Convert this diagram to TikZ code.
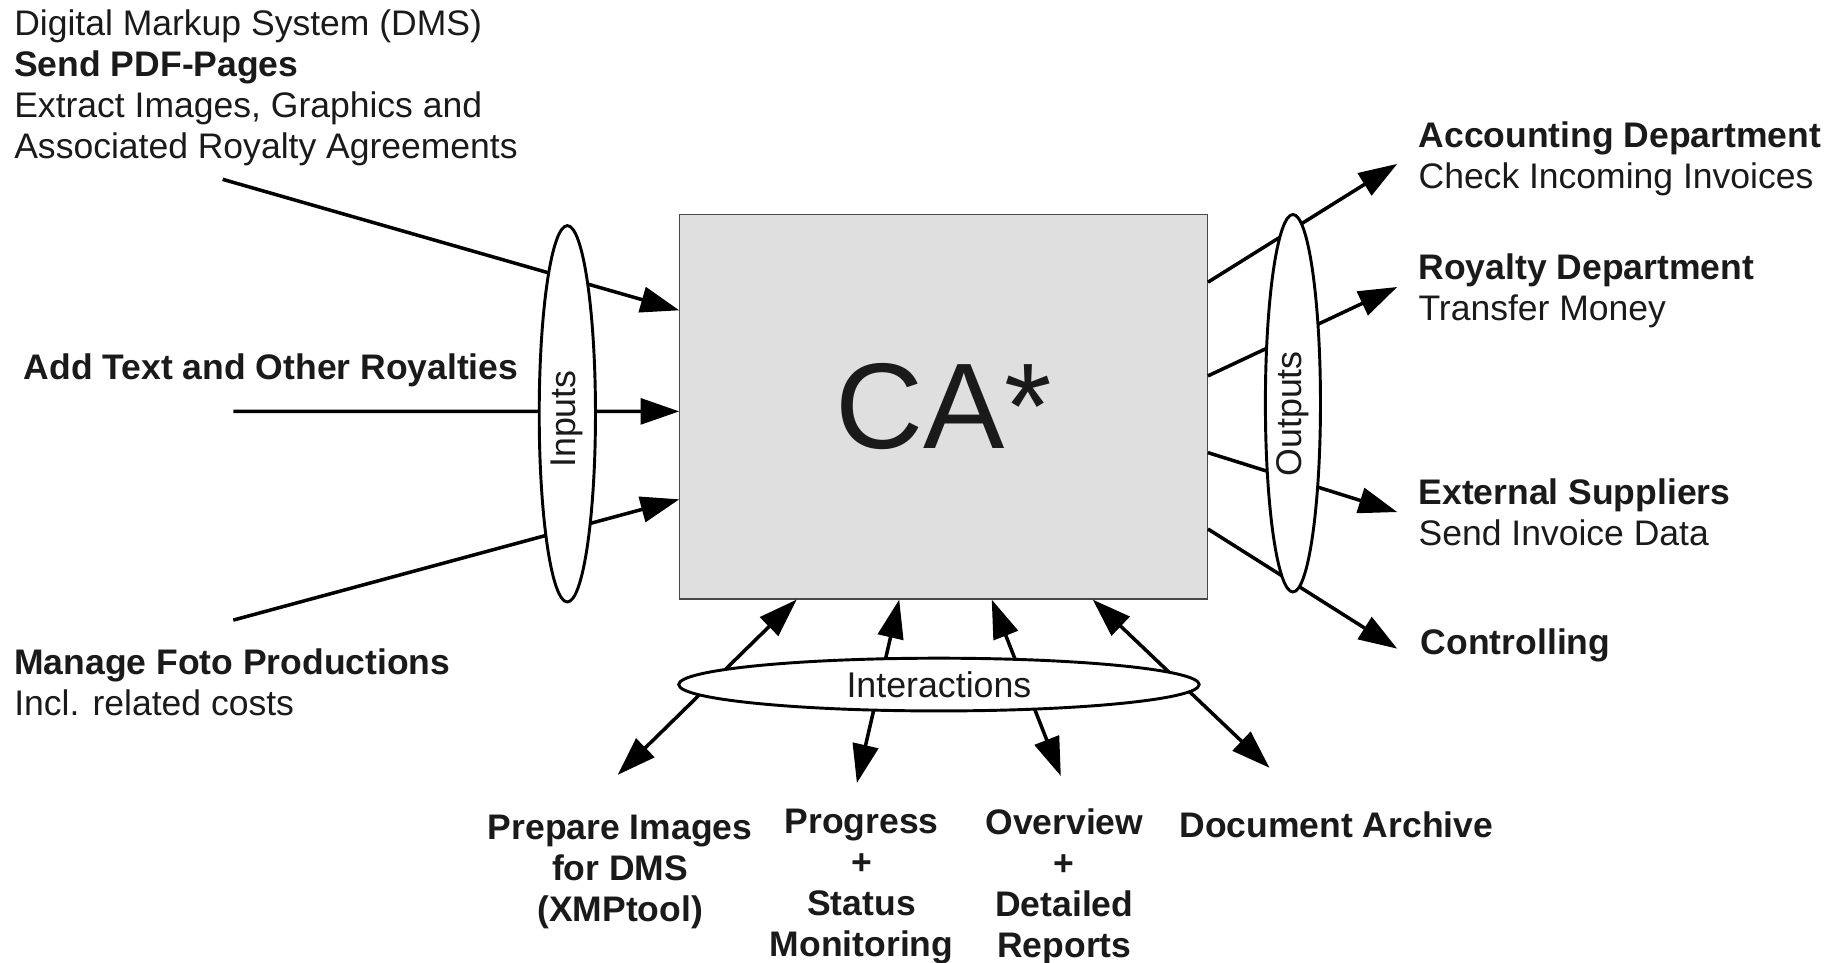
\documentclass[tikz,border=0pt]{standalone}
\usepackage{fontspec}
\setmainfont{Liberation Sans}
\usetikzlibrary{arrows.meta,shapes.geometric,calc}
\definecolor{ink}{HTML}{1A1A1A}
\definecolor{boxgray}{HTML}{DFDFDF}
\tikzset{
  txt/.style={inner sep=0pt, text=ink, align=left, font=\fontsize{30.3}{35}\selectfont},
  ctxt/.style={inner sep=0pt, text=ink, align=center, font=\fontsize{30.3}{35}\selectfont\bfseries},
  flow/.style={line width=3pt, -{Triangle[length=33pt,width=22pt]}},
  bothflow/.style={line width=3pt, {Triangle[length=33pt,width=22pt]}-{Triangle[length=33pt,width=22pt]}},
  group/.style={ellipse, draw, line width=2.5pt, fill=white, inner sep=0pt, text=ink, font=\fontsize{30.5}{35}\selectfont},
}
\begin{document}
\begin{tikzpicture}[x=1pt,y=-1pt]
\useasboundingbox (0,0) rectangle (1568,821);
% central box
\node[draw=ink!80, fill=boxgray, line width=1pt, minimum width=450pt, minimum height=328pt,
  inner sep=0pt, text=ink, font=\fontsize{104}{110}\selectfont] (ca) at (805,347) {CA*};

% left side labels
\node[txt, anchor=north west] (dms) at (12,8) {Digital Markup System (DMS)\\\textbf{Send PDF-Pages}\\Extract Images, Graphics and\\Associated Royalty Agreements};
\node[txt, anchor=north west, font=\fontsize{30.3}{35}\selectfont\bfseries] (addtxt) at (20,302) {Add Text and Other Royalties};
\node[txt, anchor=north west] (foto) at (12,553) {\textbf{Manage Foto Productions}\\Incl. related costs};

% right side labels
\node[txt, anchor=north west] (acc) at (1210,104) {\textbf{Accounting Department}\\Check Incoming Invoices};
\node[txt, anchor=north west] (roy) at (1210,216) {\textbf{Royalty Department}\\Transfer Money};
\node[txt, anchor=north west] (ext) at (1210,408) {\textbf{External Suppliers}\\Send Invoice Data};
\node[txt, anchor=north west] (ctrl) at (1212,536) {\textbf{Controlling}};

% bottom labels
\node[ctxt, anchor=north] (prep) at (529,695) {Prepare Images\\for DMS\\(XMPtool)};
\node[ctxt, anchor=north] (prog) at (735,690) {Progress\\+\\Status\\Monitoring};
\node[ctxt, anchor=north] (over) at (908,690) {Overview\\+\\Detailed\\Reports};
\node[ctxt, anchor=north] (arch) at (1140,692) {Document Archive};

% free ends
\coordinate (in1) at (190,153);
\coordinate (in2) at (199,351);
\coordinate (in3) at (199,529);
\coordinate (tip1) at (527,661);
\coordinate (tip2) at (731,668);
\coordinate (tip3) at (905,662);
\coordinate (tip4) at (1083,655);

% inputs
\draw[flow] (in1) -- ($(ca.north west)!0.25!(ca.south west)$);
\draw[flow] (in2) -- ($(ca.north west)!0.512!(ca.south west)$);
\draw[flow] (in3) -- ($(ca.north west)!0.74!(ca.south west)$);

% outputs
\draw[flow] ($(ca.north east)!0.177!(ca.south east)$) -- ([xshift=-18pt,yshift=-4pt]acc.west);
\draw[flow] ($(ca.north east)!0.42!(ca.south east)$) -- ([xshift=-18pt,yshift=3pt]roy.west);
\draw[flow] ($(ca.north east)!0.619!(ca.south east)$) -- ([xshift=-18pt]ext.west);
\draw[flow] ($(ca.north east)!0.817!(ca.south east)$) -- ([xshift=-20pt,yshift=-3pt]ctrl.west);

% interactions
\draw[bothflow] (tip1) -- ($(ca.south west)!0.222!(ca.south east)$);
\draw[bothflow] (tip2) -- ($(ca.south west)!0.416!(ca.south east)$);
\draw[bothflow] (tip3) -- ($(ca.south west)!0.591!(ca.south east)$);
\draw[bothflow] (tip4) -- ($(ca.south west)!0.782!(ca.south east)$);

% grouping ellipses on top of the lines
\node[group, rotate=90, minimum width=321pt, minimum height=48pt] (inputs) at (484,353) {Inputs\rule{9pt}{0pt}};
\node[group, rotate=90, minimum width=322pt, minimum height=47pt] (outputs) at (1103,344) {Outputs\rule{18pt}{0pt}};
\node[group, minimum width=444pt, minimum height=45pt] (interact) at (801,584) {Interactions};
\end{tikzpicture}
\end{document}
